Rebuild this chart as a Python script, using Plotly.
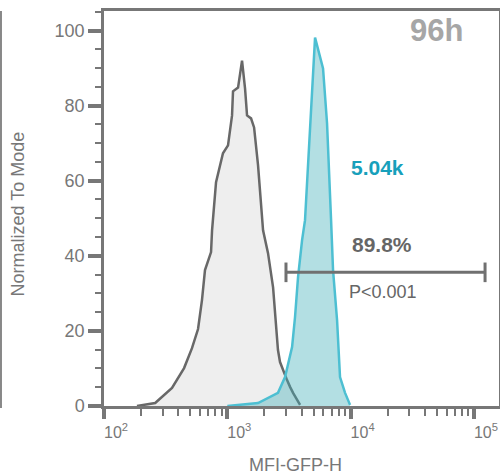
import plotly.graph_objects as go

# Control (gray) histogram: MFI values and normalized-to-mode counts
ctrl_x = [185, 260, 356, 391, 446, 517, 579, 623, 659, 738, 752, 810, 922, 1013, 1092, 1112,
          1222, 1316, 1392, 1445, 1557, 1648, 1775, 1949, 2138, 2350, 2440, 2530, 2575, 2675,
          2884, 3050, 3226, 3412, 3890]
ctrl_y = [0, 0.8, 4.8, 6.9, 10.1, 15.4, 20.5, 28.2, 36.2, 41.0, 46.8, 59.6, 67.3, 69.4, 77.4, 83.8,
          84.8, 92.0, 84.6, 77.4, 76.6, 74.2, 64.1, 46.8, 40.7, 31.6, 24.7, 19.4, 14.9, 11.7,
          8.8, 6.9, 5.1, 3.5, 0.3]

# GFP (teal) histogram at 96h
gfp_x = [1000, 1268, 1775, 2575, 2938, 3350, 3540, 3745, 4036, 4266, 4690, 5145, 5973, 6436,
         6939, 7200, 7760, 8200, 9010, 9890]
gfp_y = [0, 0.3, 0.8, 3.5, 7.7, 15.7, 23.7, 34.3, 44.1, 49.5, 73.4, 98.1, 89.9, 75.3,
         49.5, 36.2, 22.9, 7.7, 3.5, 0.3]

# Gate bar
gate_x = [2990, 123000]
gate_y = [35.6, 35.6]

y_ticks = [0, 20, 40, 60, 80, 100]
x_ticks = [100, 1000, 10000, 100000]
x_ticktext = ["10<sup>2</sup>", "10<sup>3</sup>", "10<sup>4</sup>", "10<sup>5</sup>"]
x_minor = [m * 10 ** e for e in (2, 3, 4) for m in range(2, 10)]

AX = "#777777"
FONT = "Liberation Sans, Arial, Helvetica, sans-serif"

fig = go.Figure()
fig.add_trace(go.Scatter(x=ctrl_x, y=ctrl_y, mode="lines", fill="tozeroy",
                         fillcolor="#eeeeee", line=dict(color="#686868", width=2.5),
                         showlegend=False, hoverinfo="skip"))
fig.add_trace(go.Scatter(x=gfp_x, y=gfp_y, mode="lines", fill="tozeroy",
                         fillcolor="rgba(64,176,186,0.40)", line=dict(color="#4dbfd2", width=2.5),
                         showlegend=False, hoverinfo="skip"))
fig.add_trace(go.Scatter(x=gate_x, y=gate_y, mode="lines+markers",
                         line=dict(color="#707070", width=3),
                         marker=dict(symbol="line-ns-open", size=14,
                                     line=dict(color="#707070", width=3)),
                         showlegend=False, hoverinfo="skip"))

fig.update_layout(
    width=500, height=474,
    margin=dict(l=104, r=1, t=11, b=68),
    paper_bgcolor="white", plot_bgcolor="white",
    font=dict(family=FONT, color=AX),
)
fig.update_xaxes(
    type="log", range=[2, 5.203], automargin=False,
    tickvals=x_ticks, ticktext=x_ticktext, ticks="outside", ticklen=10, tickwidth=4,
    tickcolor=AX, tickfont=dict(size=16, color=AX), ticklabelshift=12,
    minor=dict(tickmode="array", tickvals=x_minor, ticks="outside", ticklen=7, tickwidth=2,
               tickcolor=AX, showgrid=False),
    showline=True, linecolor=AX, linewidth=2.5, mirror=True,
    showgrid=False, zeroline=False,
)
fig.update_yaxes(
    range=[0, 105.2], automargin=False,
    tickvals=y_ticks, ticks="outside", ticklen=13, tickwidth=4, tickcolor=AX,
    tickfont=dict(size=18, color=AX),
    minor=dict(dtick=5, ticks="outside", ticklen=6, tickwidth=2, tickcolor=AX, showgrid=False),
    showline=True, linecolor=AX, linewidth=2.5, mirror=True,
    showgrid=False, zeroline=False,
)

ann = [
    dict(text="Normalized To Mode", x=-0.218, y=0.487, textangle=-90,
         font=dict(size=18, color=AX)),
    dict(text="MFI-GFP-H", x=0.486, y=-0.149, font=dict(size=18, color=AX)),
    dict(text="<b>96h</b>", x=0.843, y=0.951, font=dict(size=31, color="#a6a6a6")),
    dict(text="<b>5.04k</b>", x=0.62, y=0.605, xanchor="left", font=dict(size=21, color="#17a0bb")),
    dict(text="<b>89.8%</b>", x=0.623, y=0.41, xanchor="left", font=dict(size=21, color="#666666")),
    dict(text="P<0.001", x=0.615, y=0.289, xanchor="left", font=dict(size=18, color="#666666")),
]
for a in ann:
    a.setdefault("xanchor", "center")
    fig.add_annotation(xref="paper", yref="paper", showarrow=False, yanchor="middle", **a)

fig.add_shape(type="line", xref="paper", yref="paper", x0=-0.2608, x1=-0.2608,
              y0=-0.005, y1=1.0, line=dict(color="#888888", width=2))

fig.write_html("out.html", config={"displayModeBar": False},
               post_script="document.body.style.margin='0';")
